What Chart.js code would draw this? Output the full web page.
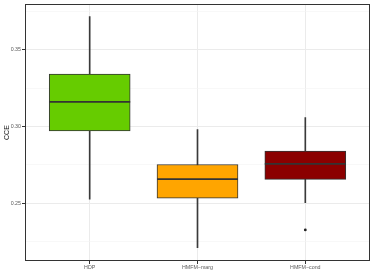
<!DOCTYPE html>
<html><head><meta charset="utf-8">
<script src="https://cdn.jsdelivr.net/npm/chart.js@4/dist/chart.umd.min.js"></script>
<style>html,body{margin:0;padding:0;background:#fff}#wrap{width:374px;height:280px}</style>
</head><body><div id="wrap"><canvas id="c" width="374" height="280"></canvas></div>
<script>
const categories = ["HDP", "HMFM\u2212marg", "HMFM\u2212cond"];
const whiskerLow = [0.2527, 0.2211, 0.2505];
const q1 = [0.2972, 0.2534, 0.2656];
const median = [0.3161, 0.2658, 0.2757];
const q3 = [0.3342, 0.2753, 0.2841];
const whiskerHigh = [0.3716, 0.2981, 0.3058];
const outliers = [{cat: 3, value: 0.2327}];
const fills = ["#66CC00", "#FFA500", "#8B0000"];
const yTicks = [0.225, 0.25, 0.275, 0.30, 0.325, 0.35, 0.375];
const yMajor = [0.25, 0.30, 0.35];

const isMajor = v => yMajor.some(m => Math.abs(m - v) < 1e-6);
const frame = {
  id: 'frame',
  afterDatasetsDraw(chart) {
    const a = chart.chartArea, ctx = chart.ctx;
    ctx.save(); ctx.strokeStyle = '#333333'; ctx.lineWidth = 1;
    ctx.strokeRect(Math.round(a.left) + 0.5, Math.round(a.top) + 0.5, Math.round(a.right - a.left) - 1, Math.round(a.bottom - a.top) - 1);
    ctx.restore();
  }
};

new Chart(document.getElementById('c'), {
  type: 'bar',
  data: {
    datasets: [
      { type: 'bar', order: 3, grouped: false,
        data: categories.map((c, i) => ({x: i + 1, y: [whiskerLow[i], whiskerHigh[i]]})),
        backgroundColor: '#3A3A3A', barThickness: 1, borderWidth: 0 },
      { type: 'bar', order: 2, grouped: false,
        data: categories.map((c, i) => ({x: i + 1, y: [q1[i], q3[i]]})),
        backgroundColor: fills, borderColor: '#333333', borderWidth: 1, borderSkipped: false, barThickness: 81 },
      { type: 'line', order: 1, showLine: false,
        data: categories.map((c, i) => ({x: i + 1, y: median[i]})),
        pointStyle: 'line', pointRadius: 40.5, pointHoverRadius: 40.5, pointBorderWidth: 1.6, pointBorderColor: '#333333' },
      { type: 'line', order: 0, showLine: false,
        data: outliers.map(o => ({x: o.cat, y: o.value})),
        pointStyle: 'circle', pointRadius: 1.4, pointBackgroundColor: '#222222', pointBorderColor: '#222222', pointBorderWidth: 0 }
    ]
  },
  options: {
    responsive: false, animation: false,
    events: [],
    layout: { autoPadding: false, padding: { left: 0, top: 3, right: 4, bottom: 0 } },
    plugins: { legend: { display: false }, tooltip: { enabled: false } },
    scales: {
      x: {
        type: 'linear', min: 0.4, max: 3.6, offset: false,
        afterBuildTicks: s => { s.ticks = categories.map((c, i) => ({value: i + 1})); },
        afterFit: s => { s.height = 19; },
        ticks: { callback: v => categories[Math.round(v) - 1] || '', color: '#5A5A5A', font: { family: 'Liberation Sans', size: 5.3 }, padding: 0, maxRotation: 0, autoSkip: false },
        grid: { offset: false, color: '#EBEBEB', lineWidth: 1, tickColor: '#333333', tickLength: 3 },
        border: { display: false }
      },
      y: {
        type: 'linear', min: 0.2125, max: 0.3797,
        afterBuildTicks: s => { s.ticks = yTicks.map(v => ({value: v})); },
        afterFit: s => { s.width = 25; },
        title: { display: true, text: 'CCE', color: '#1A1A1A', font: { family: 'Liberation Sans', size: 7 }, padding: { top: 3, bottom: 0 } },
        ticks: { callback: v => isMajor(v) ? v.toFixed(2) : '', color: '#5A5A5A', font: { family: 'Liberation Sans', size: 5.3 }, padding: 1, autoSkip: false },
        grid: {
          color: ctx => isMajor(ctx.tick.value) ? '#EBEBEB' : '#F4F4F4',
          lineWidth: ctx => isMajor(ctx.tick.value) ? 1 : 0.6,
          tickColor: ctx => isMajor(ctx.tick.value) ? '#333333' : 'rgba(0,0,0,0)',
          tickLength: 3
        },
        border: { display: false }
      }
    }
  },
  plugins: [frame]
});
</script>
</body></html>
